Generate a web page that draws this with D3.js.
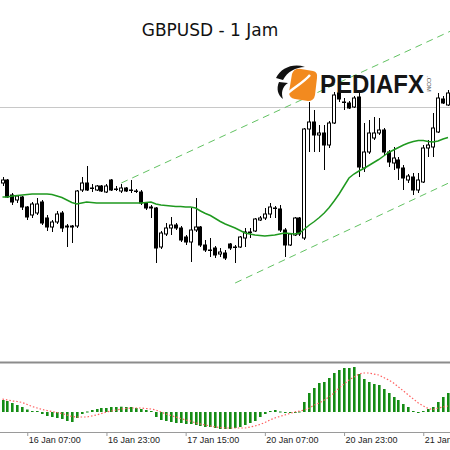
<!DOCTYPE html>
<html>
<head>
<meta charset="utf-8">
<script src="https://cdn.jsdelivr.net/npm/d3@7/dist/d3.min.js"></script>
<style>
  body { margin: 0; background: #fff; }
  svg { display: block; }
</style>
</head>
<body>
<script>
"use strict";

// GBPUSD H1 candles, 16 Jan 02:00 onwards
var opens = [1.3017, 1.3020, 1.3005, 1.3000, 1.3003, 1.2993, 1.2985, 1.2987, 1.2998, 1.2982,
    1.2973, 1.2978, 1.2987, 1.2974, 1.2973, 1.2974, 1.3010, 1.3017, 1.3012, 1.3010,
    1.3014, 1.3008, 1.3020, 1.3011, 1.3009, 1.3012, 1.3010, 1.3009, 1.3008, 1.2997,
    1.2993, 1.2992, 1.2953, 1.2966, 1.2972, 1.2975, 1.2972, 1.2963, 1.2958, 1.2970,
    1.2973, 1.2955, 1.2950, 1.2952, 1.2946, 1.2947, 1.2956, 1.2953, 1.2953, 1.2962,
    1.2968, 1.2969, 1.2980, 1.2982, 1.2986, 1.2992, 1.2991, 1.2970, 1.2955, 1.2965,
    1.2982, 1.2962, 1.3071, 1.3078, 1.3065, 1.3067, 1.3055, 1.3077, 1.3107, 1.3098,
    1.3097, 1.3093, 1.3103, 1.3032, 1.3048, 1.3062, 1.3067, 1.3070, 1.3048, 1.3037,
    1.3040, 1.3032, 1.3020, 1.3023, 1.3010, 1.3018, 1.3052, 1.3053, 1.3068, 1.3101,
    1.3095];
var highs = [1.3023, 1.3021, 1.3007, 1.3005, 1.3004, 1.2994, 1.2998, 1.3002, 1.3000, 1.2985,
    1.2980, 1.2989, 1.2989, 1.2976, 1.2975, 1.3010, 1.3023, 1.3034, 1.3016, 1.3015,
    1.3015, 1.3016, 1.3021, 1.3014, 1.3016, 1.3013, 1.3020, 1.3011, 1.3010, 1.2998,
    1.2995, 1.2993, 1.2969, 1.2977, 1.2983, 1.2977, 1.2974, 1.2965, 1.2992, 1.3002,
    1.2974, 1.2960, 1.2962, 1.2954, 1.2952, 1.2950, 1.2957, 1.2955, 1.2964, 1.2972,
    1.2972, 1.2982, 1.2984, 1.2992, 1.2997, 1.2994, 1.2995, 1.2972, 1.2967, 1.2983,
    1.2983, 1.3072, 1.3098, 1.3090, 1.3075, 1.3075, 1.3079, 1.3108, 1.3112, 1.3102,
    1.3099, 1.3104, 1.3107, 1.3077, 1.3080, 1.3083, 1.3082, 1.3072, 1.3050, 1.3053,
    1.3043, 1.3035, 1.3026, 1.3027, 1.3027, 1.3055, 1.3060, 1.3087, 1.3107, 1.3104,
    1.3110];
var lows = [1.3014, 1.3002, 1.2995, 1.2997, 1.2990, 1.2980, 1.2982, 1.2985, 1.2975, 1.2969,
    1.2968, 1.2976, 1.2968, 1.2953, 1.2957, 1.2972, 1.3008, 1.3009, 1.3008, 1.3009,
    1.3008, 1.3007, 1.3009, 1.3009, 1.3007, 1.3008, 1.3007, 1.3007, 1.2995, 1.2990,
    1.2982, 1.2937, 1.2951, 1.2964, 1.2965, 1.2970, 1.2958, 1.2955, 1.2938, 1.2968,
    1.2953, 1.2948, 1.2943, 1.2942, 1.2943, 1.2940, 1.2950, 1.2937, 1.2952, 1.2953,
    1.2962, 1.2968, 1.2979, 1.2980, 1.2982, 1.2982, 1.2968, 1.2943, 1.2954, 1.2964,
    1.2964, 1.2960, 1.3048, 1.3048, 1.3048, 1.3030, 1.3052, 1.3076, 1.3098, 1.3090,
    1.3091, 1.3092, 1.3023, 1.3028, 1.3046, 1.3060, 1.3065, 1.3045, 1.3033, 1.3030,
    1.3020, 1.3010, 1.3017, 1.3005, 1.3007, 1.3017, 1.3043, 1.3043, 1.3067, 1.3096,
    1.3094];
var closes = [1.3020, 1.3003, 1.2998, 1.3004, 1.2993, 1.2983, 1.2996, 1.2996, 1.2977, 1.2973,
    1.2978, 1.2986, 1.2972, 1.2973, 1.2974, 1.3009, 1.3017, 1.3010, 1.30115, 1.3014,
    1.3009, 1.3014, 1.3010, 1.30105, 1.3012, 1.3009, 1.30095, 1.30085, 1.2997, 1.2992,
    1.2992, 1.2952, 1.2967, 1.2972, 1.2975, 1.2972, 1.2960, 1.2958, 1.2970, 1.2973,
    1.2955, 1.2950, 1.29495, 1.2945, 1.2948, 1.2942, 1.2952, 1.29525, 1.2963, 1.2968,
    1.29675, 1.2981, 1.2982, 1.2986, 1.2993, 1.29915, 1.2970, 1.2955, 1.2966, 1.2982,
    1.2966, 1.3071, 1.3078, 1.3065, 1.3067, 1.3055, 1.3077, 1.3105, 1.3101, 1.30975,
    1.3092, 1.3102, 1.3033, 1.3048, 1.3067, 1.3067, 1.3070, 1.3048, 1.3038, 1.3042,
    1.3032, 1.3022, 1.3024, 1.3010, 1.3020, 1.3052, 1.3055, 1.3072, 1.3102, 1.3097,
    1.3107];

// moving average (green line)
var maValues = [1.3003, 1.3003, 1.3004, 1.30045, 1.3005, 1.30055, 1.3006, 1.3006, 1.3006, 1.3006,
    1.30055, 1.3004, 1.30025, 1.3000, 1.29975, 1.2996, 1.2997, 1.2998, 1.29975, 1.2997,
    1.2997, 1.2997, 1.2997, 1.2997, 1.2997, 1.2997, 1.2997, 1.2997, 1.2997, 1.29975,
    1.2998, 1.2996, 1.2995, 1.29945, 1.2994, 1.29935, 1.29935, 1.2993, 1.2993, 1.2992,
    1.2989, 1.29865, 1.29845, 1.29815, 1.29785, 1.2976, 1.2974, 1.2972, 1.29695, 1.2967,
    1.2966, 1.2965, 1.29645, 1.2964, 1.29645, 1.2965, 1.2966, 1.2967, 1.29665, 1.2966,
    1.2967, 1.2971, 1.2975, 1.29785, 1.29825, 1.2987, 1.29925, 1.2999, 1.3006, 1.3014,
    1.3022, 1.3026, 1.3029, 1.30315, 1.30345, 1.30375, 1.30405, 1.3044, 1.30475, 1.3050,
    1.30525, 1.3055, 1.3057, 1.30585, 1.30595, 1.30595, 1.30585, 1.3058, 1.3059, 1.3061,
    1.30625];

// MACD histogram and signal
var macdValues = [0.0012, 0.0011, 0.0009, 0.0007, 0.0005, 0.00025, 0.0001, 0.0001, -0.0002, -0.0004,
    -0.0005, -0.0006, -0.0007, -0.0009, -0.0010, -0.0006, -0.0002, 0.00005, 0.0002, 0.0003,
    0.0004, 0.0004, 0.0005, 0.0005, 0.00053, 0.0005, 0.0005, 0.0004, 0.0003, 0.0002,
    0.0001, -0.0005, -0.0008, -0.0009, -0.0010, -0.0011, -0.0011, -0.0012, -0.0012, -0.0013,
    -0.0014, -0.0015, -0.0015, -0.0016, -0.0017, -0.0017, -0.0017, -0.0016, -0.0015, -0.0013,
    -0.0011, -0.0009, -0.0005, -0.0002, 0.0001, 0.0002, 0.00005, -0.00005, -0.0001, -0.00005,
    0.00005, 0.0010, 0.0019, 0.0024, 0.0029, 0.0030, 0.0034, 0.0039, 0.0042, 0.0044,
    0.0044, 0.0045, 0.0038, 0.0033, 0.0030, 0.0028, 0.0027, 0.0023, 0.0019, 0.0015,
    0.0012, 0.0008, 0.0005, 0.0001, -0.0001, 0.0001, 0.0003, 0.0005, 0.0010, 0.0015,
    0.0019];
var signalValues = [0.0013, 0.0012, 0.0011, 0.00105, 0.00095, 0.00075, 0.00055, 0.0004, 0.00025, 0.00015,
    0.00005, -0.00005, -0.00015, -0.0003, -0.00045, -0.0005, -0.0005, -0.0005, -0.0004, -0.0003,
    -0.00015, 0.0000, 0.0001, 0.0002, 0.0003, 0.00035, 0.0004, 0.0004, 0.0004, 0.00035,
    0.0003, 0.0002, 0.0000, -0.0002, -0.00035, -0.0005, -0.00065, -0.0008, -0.0009, -0.0011,
    -0.0012, -0.0013, -0.0014, -0.0015, -0.00155, -0.0016, -0.0016, -0.0016, -0.0016, -0.0016,
    -0.0015, -0.0014, -0.00125, -0.00105, -0.0008, -0.0006, -0.00045, -0.0003, -0.00015, 0.0000,
    0.0001, 0.0002, 0.0004, 0.0007, 0.0009, 0.0012, 0.0015, 0.0019, 0.0024, 0.0028,
    0.0032, 0.0035, 0.0038, 0.0039, 0.0039, 0.0038, 0.0037, 0.00345, 0.0032, 0.0029,
    0.0025, 0.0021, 0.0017, 0.0013, 0.0009, 0.0006, 0.00035, 0.00025, 0.0004, 0.0005,
    0.0006];

var tickIndex = [5, 21, 37, 53, 69, 85];
var tickLabels = ["16 Jan 07:00", "16 Jan 23:00", "17 Jan 15:00", "20 Jan 07:00", "20 Jan 23:00", "21 Jan 15:00"];

// channel drawn on the chart: [candle index, price]
var upperChannel = [[24, 1.3017], [91, 1.3170]];
var lowerChannel = [[47, 1.2917], [91, 1.3019]];
var priceLine = 1.3093;
var title = "GBPUSD - 1 Jam";

var width = 450,
    height = 450;

var candles = opens.map(function (o, i) {
    return { i: i, open: o, high: highs[i], low: lows[i], close: closes[i] };
});

var x = d3.scaleLinear().domain([0, 90]).range([2.5, 448]);
var y = d3.scaleLinear().domain([1.32, 1.28]).range([0, 400]);
var yMacd = d3.scaleLinear().domain([0, -0.001]).range([412, 422]);

function cx(i) {
    return Math.round(x(i));
}

var svg = d3.select("body").append("svg")
    .attr("width", width)
    .attr("height", height);

// main price panel
var main = svg.append("g").attr("class", "main");

main.append("line")
    .attr("x1", 0).attr("x2", width)
    .attr("y1", Math.round(y(priceLine)) + 0.5)
    .attr("y2", Math.round(y(priceLine)) + 0.5)
    .attr("stroke", "#c8c8c8")
    .attr("stroke-width", 1);

main.selectAll(".channel")
    .data([upperChannel, lowerChannel])
    .enter().append("line")
    .attr("class", "channel")
    .attr("x1", function (d) { return x(d[0][0]); })
    .attr("y1", function (d) { return y(d[0][1]); })
    .attr("x2", function (d) { return x(d[1][0]); })
    .attr("y2", function (d) { return y(d[1][1]); })
    .attr("stroke", "#62c262")
    .attr("stroke-width", 1)
    .attr("stroke-dasharray", "7,5");

var candle = main.selectAll(".candle")
    .data(candles)
    .enter().append("g")
    .attr("class", "candle");

candle.append("line")
    .attr("x1", function (d) { return cx(d.i) + 0.5; })
    .attr("x2", function (d) { return cx(d.i) + 0.5; })
    .attr("y1", function (d) { return y(d.high); })
    .attr("y2", function (d) { return y(d.low); })
    .attr("stroke", "#000")
    .attr("stroke-width", 1);

candle.append("rect")
    .attr("x", function (d) { return cx(d.i) - 1.5; })
    .attr("width", 3)
    .attr("y", function (d) { return y(Math.max(d.open, d.close)); })
    .attr("height", function (d) { return Math.abs(y(d.open) - y(d.close)); })
    .attr("fill", function (d) { return d.close >= d.open ? "#fff" : "#000"; })
    .attr("stroke", "#000")
    .attr("stroke-width", 1);

var maLine = d3.line()
    .x(function (d, i) { return x(i); })
    .y(function (d) { return y(d); });

main.append("path")
    .datum(maValues)
    .attr("d", maLine)
    .attr("fill", "none")
    .attr("stroke", "#1f991f")
    .attr("stroke-width", 1.5);

// title
svg.append("text")
    .attr("x", 210)
    .attr("y", 36)
    .attr("text-anchor", "middle")
    .style("font-family", "'DejaVu Sans', sans-serif")
    .style("font-size", "17px")
    .attr("fill", "#111")
    .text(title);

// watermark logo
var logo = svg.append("g").attr("transform", "translate(275,63)");
logo.append("path")
    .attr("d", "M17,11 Q19,5 26,6 L38,8 Q43,9 42,15 L40,32 Q39,38 33,38 L20,36 Q14,35 14,29 Z")
    .attr("fill", "#f28a1f");
logo.append("path")
    .attr("d", "M12,31 C19,24 27,21 35,12")
    .attr("fill", "none")
    .attr("stroke", "#fff")
    .attr("stroke-width", 2.5);
logo.append("path")
    .attr("d", "M1,15 C6,5 18,0 30,4 C21,4 12,9 8,17 Z")
    .attr("fill", "#111");
logo.append("path")
    .attr("d", "M4,19 C1,26 3,32 8,36 C6,30 7,24 13,20 Z")
    .attr("fill", "#111");
logo.append("text")
    .attr("x", 45)
    .attr("y", 30)
    .attr("textLength", 104)
    .attr("lengthAdjust", "spacingAndGlyphs")
    .style("font-family", "'Liberation Sans', Arial, sans-serif")
    .style("font-weight", "bold")
    .style("font-size", "25px")
    .attr("fill", "#151515")
    .text("PEDIAFX");
logo.append("text")
    .attr("transform", "translate(152,13) rotate(90)")
    .style("font-family", "'Liberation Sans', Arial, sans-serif")
    .style("font-size", "6px")
    .attr("fill", "#555")
    .text(".COM");

// MACD panel
var macd = svg.append("g").attr("class", "macd");

macd.append("line")
    .attr("x1", 0).attr("x2", width)
    .attr("y1", 362.5).attr("y2", 362.5)
    .attr("stroke", "#8c8c8c")
    .attr("stroke-width", 2);

macd.selectAll(".bar")
    .data(macdValues)
    .enter().append("rect")
    .attr("class", "bar")
    .attr("x", function (d, i) { return cx(i) - 1; })
    .attr("width", 2.6)
    .attr("y", function (d) { return Math.min(yMacd(d), yMacd(0)); })
    .attr("height", function (d) { return Math.max(Math.abs(yMacd(d) - yMacd(0)), 1); })
    .attr("fill", "#148c14");

var signalLine = d3.line()
    .x(function (d, i) { return x(i); })
    .y(function (d) { return yMacd(d); });

macd.append("path")
    .datum(signalValues)
    .attr("d", signalLine)
    .attr("fill", "none")
    .attr("stroke", "#ff6060")
    .attr("stroke-width", 1.2)
    .attr("stroke-dasharray", "1.5,2");

// time axis
var axis = d3.axisBottom(x)
    .tickValues(tickIndex)
    .tickFormat(function (d, i) { return tickLabels[i]; })
    .tickSize(4)
    .tickSizeOuter(0);

var gAxis = svg.append("g")
    .attr("transform", "translate(0,432)")
    .call(axis);

gAxis.select(".domain")
    .attr("d", "M0,0.5H" + width)
    .attr("stroke", "#9a9a9a");
gAxis.selectAll(".tick line").attr("stroke", "#9a9a9a");
gAxis.selectAll(".tick text")
    .attr("text-anchor", "start")
    .attr("x", 1)
    .attr("y", 5)
    .style("font-family", "'Liberation Sans', Arial, sans-serif")
    .style("font-size", "9px")
    .attr("fill", "#222");
</script>
</body>
</html>
